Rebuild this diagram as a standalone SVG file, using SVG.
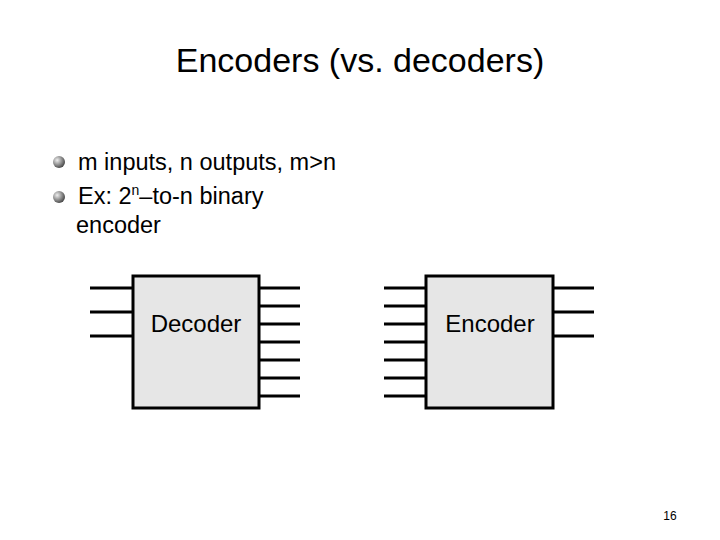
<svg xmlns="http://www.w3.org/2000/svg" width="720" height="540" viewBox="0 0 720 540">
<style>
text{font-family:"Liberation Sans",Arial,sans-serif;fill:#000}
.box{fill:#e6e6e6;stroke:#000;stroke-width:3}
.w{stroke:#000;stroke-width:3}
.b{font-size:23.5px}
</style>
<defs><radialGradient id="g" cx="0.35" cy="0.35" r="0.7"><stop offset="0" stop-color="#eee"/><stop offset="1" stop-color="#444"/></radialGradient></defs>
<rect width="720" height="540" fill="#fff"/>
<text x="360" y="72" font-size="34" text-anchor="middle">Encoders (vs. decoders)</text>
<circle cx="59" cy="162" r="6" fill="url(#g)"/>
<circle cx="59" cy="197" r="6" fill="url(#g)"/>
<text class="b" x="78" y="170">m inputs, n outputs, m&gt;n</text>
<text class="b" x="78" y="204">Ex: 2<tspan font-size="14" dy="-9">n</tspan><tspan dy="9">–to-n binary</tspan></text>
<text class="b" x="76" y="233">encoder</text>
<g id="connectors">
<path class="w" d="M90 288H132M90 312H132M90 336H132M259 288H300M259 306H300M259 324H300M259 342H300M259 360H300M259 378H300M259 396H300"/>
<path class="w" d="M384 288H426M384 306H426M384 324H426M384 342H426M384 360H426M384 378H426M384 396H426M553 288H594M553 312H594M553 336H594"/>
</g>
<g id="decoder"><rect class="box" x="133" y="276" width="126" height="132"/><text x="196" y="332" font-size="24" text-anchor="middle">Decoder</text></g>
<g id="encoder"><rect class="box" x="426" y="276" width="127" height="132"/><text x="490" y="332" font-size="24" text-anchor="middle">Encoder</text></g>
<text x="670" y="520" font-size="12" text-anchor="middle">16</text>
</svg>
